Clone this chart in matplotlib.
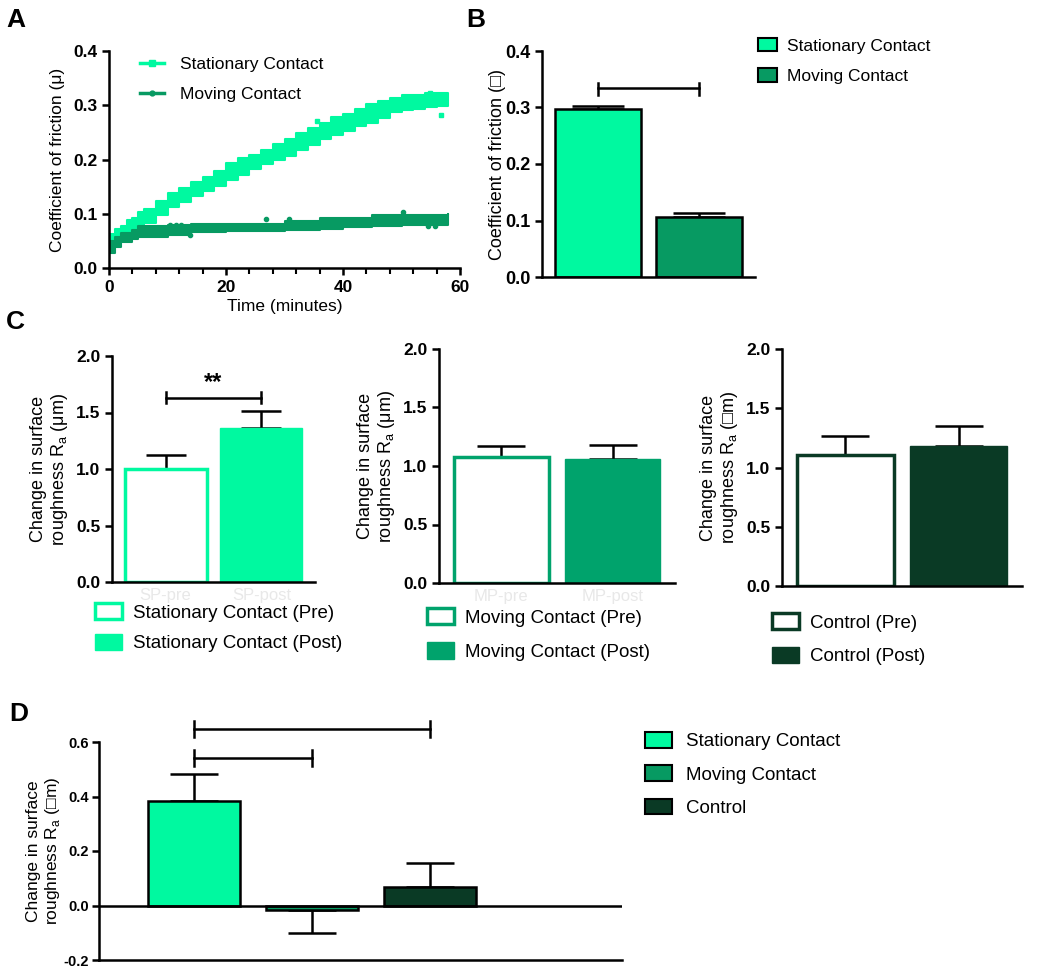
import matplotlib
matplotlib.use('Agg')
import matplotlib.pyplot as plt
from matplotlib.patches import Patch
from matplotlib.lines import Line2D
import matplotlib.ticker as mticker

plt.rcParams['font.family'] = ['Liberation Sans', 'DejaVu Sans']
plt.rcParams['axes.linewidth'] = 1.8
plt.rcParams['xtick.major.width'] = 1.8
plt.rcParams['ytick.major.width'] = 1.8
plt.rcParams['xtick.minor.width'] = 1.5
plt.rcParams['xtick.major.size'] = 5
plt.rcParams['ytick.major.size'] = 5
plt.rcParams['xtick.minor.size'] = 4

STAT = '#00F9A0'
MOV = '#079A62'
MOV_C = '#00A36C'
CTRL = '#0A3A25'
NARROW = ['Liberation Sans Narrow', 'Liberation Sans', 'DejaVu Sans']

# ---- A: friction trace, read as a band (time, lower, upper)
stat_t = [0, 1, 2, 3, 4, 5, 6, 8, 10, 12, 14, 16, 18, 20, 22, 24, 26, 28, 30,
          32, 34, 36, 38, 40, 42, 44, 46, 48, 50, 52, 54, 56, 58]
stat_lo = [0.045, 0.052, 0.058, 0.063, 0.072, 0.078, 0.083, 0.097, 0.112, 0.122,
           0.132, 0.142, 0.152, 0.162, 0.172, 0.182, 0.192, 0.2, 0.207, 0.217,
           0.227, 0.237, 0.246, 0.252, 0.262, 0.267, 0.277, 0.287, 0.292, 0.293,
           0.297, 0.298, 0.298]
stat_hi = [0.062, 0.072, 0.078, 0.088, 0.093, 0.103, 0.108, 0.123, 0.138, 0.148,
           0.158, 0.168, 0.178, 0.193, 0.203, 0.208, 0.218, 0.228, 0.238, 0.248,
           0.258, 0.268, 0.278, 0.283, 0.293, 0.302, 0.308, 0.313, 0.318, 0.318,
           0.322, 0.322, 0.322]
stat_out_t = [35.5, 54.9, 56.8]
stat_out_v = [0.271, 0.322, 0.282]

mov_t = [0, 1, 2, 4, 5, 10, 14, 20, 30, 36, 40, 45, 50, 58]
mov_lo = [0.028, 0.038, 0.048, 0.053, 0.058, 0.06, 0.067, 0.068, 0.07, 0.072,
          0.075, 0.078, 0.08, 0.083]
mov_hi = [0.05, 0.057, 0.064, 0.07, 0.077, 0.08, 0.082, 0.082, 0.087, 0.092,
          0.092, 0.097, 0.098, 0.10]
mov_out_t = [10.5, 11.5, 12.3, 13.9, 26.8, 30.8, 50.3, 54.6, 55.8]
mov_out_v = [0.08, 0.08, 0.08, 0.06, 0.09, 0.09, 0.103, 0.077, 0.077]

# ---- B: mean friction
b_labels = ['Stationary Contact', 'Moving Contact']
b_mean = [0.298, 0.107]
b_sem = [0.005, 0.007]

# ---- C: roughness pre / post
sp_ticks = ['SP-pre', 'SP-post']
sp_mean = [1.00, 1.363]
sp_sem = [0.124, 0.150]
mp_ticks = ['MP-pre', 'MP-post']
mp_mean = [1.08, 1.062]
mp_sem = [0.091, 0.115]
ctl_mean = [1.105, 1.181]
ctl_sem = [0.163, 0.172]

# ---- D: change in roughness
d_labels = ['Stationary Contact', 'Moving Contact', 'Control']
d_mean = [0.385, -0.017, 0.068]
d_sem_lo = [0.0, 0.084, 0.0]
d_sem_hi = [0.098, 0.0, 0.088]

W, H = 1050, 973


def box(l, t, r, b):
    return [l / W, 1 - b / H, (r - l) / W, (b - t) / H]


def clean(ax):
    ax.spines['top'].set_visible(False)
    ax.spines['right'].set_visible(False)


fig = plt.figure(figsize=(10.5, 9.73), dpi=100)

# ================= A
axA = fig.add_axes(box(109, 51, 460, 268))
clean(axA)
axA.fill_between(stat_t, stat_lo, stat_hi, step='post', color=STAT, lw=1.5)
axA.plot(stat_out_t, stat_out_v, 's', color=STAT, ms=3)
axA.fill_between(mov_t, mov_lo, mov_hi, step='post', color=MOV, lw=1.5)
axA.plot(mov_out_t, mov_out_v, 'o', color=MOV, ms=3)
axA.set_xlim(0, 60)
axA.set_ylim(0, 0.4)
axA.xaxis.set_major_locator(mticker.MultipleLocator(20))
axA.xaxis.set_minor_locator(mticker.MultipleLocator(4))
axA.yaxis.set_major_locator(mticker.MultipleLocator(0.1))
axA.yaxis.set_major_formatter(mticker.FormatStrFormatter('%.1f'))
for lab in axA.get_xticklabels() + axA.get_yticklabels():
    lab.set_fontweight('bold')
axA.tick_params(labelsize=12.5)
axA.set_xlabel('Time (minutes)', fontsize=12.5, labelpad=3)
axA.set_ylabel('Coefficient of friction (μ)', fontsize=12.5, labelpad=6)
hA = [Line2D([], [], color=STAT, lw=2.5, marker='s', ms=4),
      Line2D([], [], color=MOV, lw=2.5, marker='o', ms=3.5)]
axA.legend(hA, ['Stationary Contact', 'Moving Contact'], loc='upper left',
           bbox_to_anchor=(140 / W, 1 - 57 / H), bbox_transform=fig.transFigure,
           frameon=False, fontsize=12.5, handlelength=1.4, handletextpad=0.9,
           labelspacing=0.85, borderpad=0, borderaxespad=0)

# ================= B
axB = fig.add_axes(box(542, 51, 755, 277))
clean(axB)
xb = [0, 1]
axB.bar(xb, b_mean, width=0.855, color=[STAT, MOV], edgecolor='black', lw=1.8, zorder=2)
axB.errorbar(xb, b_mean, yerr=[[0, 0], b_sem], fmt='none', ecolor='black',
             elinewidth=1.8, capsize=19, capthick=1.8, zorder=1)
axB.plot([0, 1], [0.334, 0.334], color='black', lw=1.8, clip_on=False)
for xx in xb:
    axB.plot([xx, xx], [0.322, 0.343], color='black', lw=1.8, clip_on=False)
axB.set_xlim(-0.56, 1.56)
axB.set_ylim(0, 0.4)
axB.set_xticks([])
axB.yaxis.set_major_locator(mticker.MultipleLocator(0.1))
axB.yaxis.set_major_formatter(mticker.FormatStrFormatter('%.1f'))
for lab in axB.get_yticklabels():
    lab.set_fontweight('bold')
    lab.set_family(NARROW)
axB.tick_params(labelsize=13)
axB.set_ylabel('Coefficient of friction (\u25a1)', fontsize=13, labelpad=-1)
hB = [Patch(facecolor=STAT, edgecolor='black', lw=1.5),
      Patch(facecolor=MOV, edgecolor='black', lw=1.5)]
axB.legend(hB, b_labels, loc='upper left',
           bbox_to_anchor=(758 / W, 1 - 38 / H), bbox_transform=fig.transFigure,
           frameon=False, prop={'family': NARROW, 'size': 12.5}, handlelength=1.1,
           handleheight=0.8, handletextpad=0.55, labelspacing=0.85,
           borderpad=0, borderaxespad=0)


# ================= C
def pre_post(ax, means, sems, color, ticks, label, names, leg_xy, capsize, spacing):
    clean(ax)
    x = [0, 1]
    ax.bar(0, means[0], width=0.855, color='white', edgecolor=color, lw=2.5, zorder=2)
    ax.bar(1, means[1], width=0.855, color=color, edgecolor=color, lw=1, zorder=2)
    ax.errorbar(x, means, yerr=[[0, 0], sems], fmt='none', ecolor='black',
                elinewidth=1.8, capsize=capsize, capthick=1.8, zorder=1)
    ax.set_xlim(-0.56, 1.56)
    ax.set_ylim(0, 2.0)
    ax.set_xticks(x)
    ax.set_xticklabels(ticks, color='#e8e8e8', fontsize=12)
    ax.tick_params(axis='x', length=0, pad=4)
    ax.yaxis.set_major_locator(mticker.MultipleLocator(0.5))
    ax.yaxis.set_major_formatter(mticker.FormatStrFormatter('%.1f'))
    ax.tick_params(axis='y', labelsize=12.5)
    for lab in ax.get_yticklabels():
        lab.set_fontweight('bold')
    ax.set_ylabel('Change in surface\nroughness R$_\\mathregular{a}$ ' + label,
                  fontsize=13, linespacing=1.15, labelpad=4)
    h = [Patch(facecolor='white', edgecolor=color, lw=2.5),
         Patch(facecolor=color, edgecolor=color)]
    ax.legend(h, names, loc='upper left', bbox_to_anchor=leg_xy,
              bbox_transform=fig.transFigure, frameon=False, fontsize=13.5,
              handlelength=1.45, handleheight=0.95, handletextpad=0.6,
              labelspacing=spacing, borderpad=0, borderaxespad=0)


axC1 = fig.add_axes(box(112, 356, 315, 582))
pre_post(axC1, sp_mean, sp_sem, STAT, sp_ticks, '(μm)',
         ['Stationary Contact (Pre)', 'Stationary Contact (Post)'],
         (95 / W, 1 - 603 / H), 14.5, 0.65)
axC1.plot([0, 1], [1.631, 1.631], color='black', lw=1.8)
for xx in [0, 1]:
    axC1.plot([xx, xx], [1.585, 1.677], color='black', lw=1.8)
axC1.text(0.5, 1.66, '**', ha='center', va='bottom', fontsize=17, fontweight='bold')

axC2 = fig.add_axes(box(439, 349, 675, 583))
pre_post(axC2, mp_mean, mp_sem, MOV_C, mp_ticks, '(μm)',
         ['Moving Contact (Pre)', 'Moving Contact (Post)'],
         (427 / W, 1 - 608 / H), 17, 0.85)

axC3 = fig.add_axes(box(782, 349, 1022, 586))
pre_post(axC3, ctl_mean, ctl_sem, CTRL, ['', ''], '(\u25a1m)',
         ['Control (Pre)', 'Control (Post)'],
         (772 / W, 1 - 613 / H), 17, 0.8)

# ================= D
axD = fig.add_axes(box(99, 742, 622, 960))
clean(axD)
xd = [0, 1, 2]
axD.bar(xd, d_mean, width=0.78, color=[STAT, MOV, CTRL], edgecolor='black', lw=1.8, zorder=2)
axD.errorbar(xd, d_mean, yerr=[d_sem_lo, d_sem_hi], fmt='none', ecolor='black',
             elinewidth=1.8, capsize=17, capthick=1.8, zorder=1)
axD.axhline(0, color='black', lw=1.8, zorder=3)
for y0, x1 in [(0.648, 2), (0.542, 1)]:
    axD.plot([0, x1], [y0, y0], color='black', lw=1.8, clip_on=False)
    for xx in [0, x1]:
        axD.plot([xx, xx], [y0 - 0.03, y0 + 0.03], color='black', lw=1.8, clip_on=False)
axD.set_xlim(-0.807, 3.63)
axD.set_ylim(-0.2, 0.6)
axD.set_xticks([])
axD.yaxis.set_major_locator(mticker.MultipleLocator(0.2))
axD.yaxis.set_major_formatter(mticker.FormatStrFormatter('%.1f'))
axD.tick_params(axis='y', labelsize=10.5, pad=2.5)
for lab in axD.get_yticklabels():
    lab.set_fontweight('bold')
axD.set_ylabel('Change in surface\nroughness R$_\\mathregular{a}$ (\u25a1m)',
               fontsize=12.5, linespacing=1.15, labelpad=1)
hD = [Patch(facecolor=c, edgecolor='black', lw=1.5) for c in [STAT, MOV, CTRL]]
axD.legend(hD, d_labels, loc='upper left',
           bbox_to_anchor=(645 / W, 1 - 732 / H), bbox_transform=fig.transFigure,
           frameon=False, fontsize=13.5, handlelength=1.45, handleheight=0.9,
           handletextpad=0.75, labelspacing=0.8, borderpad=0, borderaxespad=0)

# panel letters
for letter, x, y in [('A', 6, 8), ('B', 466, 8), ('C', 6, 310), ('D', 9, 702)]:
    fig.text(x / W, 1 - y / H, letter, fontsize=19, fontweight='bold', va='top', ha='left')

fig.savefig('out.png', dpi=100)
